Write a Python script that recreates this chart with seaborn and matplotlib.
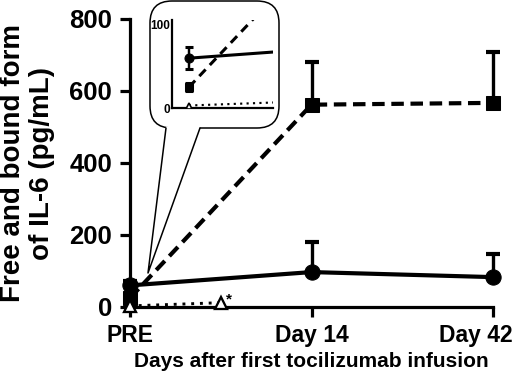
import numpy as np
import pandas as pd
import matplotlib
matplotlib.use("Agg")
import matplotlib.pyplot as plt
import seaborn as sns
from matplotlib.patches import FancyBboxPatch, Polygon
from matplotlib.lines import Line2D
from matplotlib.transforms import IdentityTransform, ScaledTranslation

# ---- data ----
day_labels = ["PRE", "Day 14", "Day 42"]
day_pos = [0, 1, 2]

bound_il6 = [25, 562, 567]       # dashed, squares
bound_err = [5, 119, 140]
free_il6 = [60, 97, 83]          # solid, circles
free_err = [13, 83, 64]
tcz_pos = [0, 0.5]               # dotted, open triangles
tcz_il6 = [3, 12]

sns.set_style("ticks")
plt.rcParams["font.family"] = ["Liberation Sans", "DejaVu Sans"]
plt.rcParams["font.weight"] = "bold"
for k in ["text.color", "axes.labelcolor", "xtick.color", "ytick.color", "axes.edgecolor"]:
    plt.rcParams[k] = "black"

W, H = 520, 377
fig = plt.figure(figsize=(W / 100, H / 100), dpi=100)
ax = fig.add_axes([130 / W, 1 - 307 / H, 363 / W, 288 / H])

df_b = pd.DataFrame({"x": day_pos, "y": bound_il6})
df_f = pd.DataFrame({"x": day_pos, "y": free_il6})
df_t = pd.DataFrame({"x": tcz_pos, "y": tcz_il6})


def draw(a, lw, ms, cap, dash, small=False):
    a.errorbar(day_pos, bound_il6, yerr=[[5, 0, 0] if small else np.zeros(3), bound_err],
               fmt="none", ecolor="black", elinewidth=lw * 0.8, capsize=cap,
               capthick=lw, clip_on=small, zorder=3)
    a.errorbar(day_pos, free_il6, yerr=[[13, 0, 0] if small else np.zeros(3), free_err],
               fmt="none", ecolor="black", elinewidth=lw * 0.8, capsize=cap,
               capthick=lw, clip_on=small, zorder=3)
    sns.lineplot(data=df_b, x="x", y="y", ax=a, color="black", lw=lw,
                 dashes=False, linestyle=(0, dash), marker="s", ms=ms * 0.9,
                 markeredgecolor="black", clip_on=small, zorder=4)
    sns.lineplot(data=df_f, x="x", y="y", ax=a, color="black", lw=lw,
                 marker="o", ms=ms, markeredgecolor="black", clip_on=small, zorder=4)
    sns.lineplot(data=df_t, x="x", y="y", ax=a, color="black", lw=lw * 0.7,
                 linestyle=(0, (1, 2.0)), marker="^", ms=ms * 0.75,
                 markerfacecolor="white", markeredgecolor="black",
                 markeredgewidth=lw * 0.55, clip_on=small, zorder=4)


draw(ax, 3, 11, 4.7, (3, 1.6))
ax.text(0.53, 22, "*", fontsize=11, ha="left", va="center")

ax.set_xlim(0, 2)
ax.set_ylim(0, 800)
ax.set_xticks(day_pos)
ax.set_xticklabels(day_labels)
ax.set_yticks([0, 200, 400, 600, 800])
for s in ["top", "right"]:
    ax.spines[s].set_visible(False)
for s in ["left", "bottom"]:
    ax.spines[s].set_linewidth(2.3)
    ax.spines[s].set_color("black")
ax.tick_params(axis="both", direction="out", length=7.5, width=2.3, color="black")
ax.tick_params(axis="y", labelsize=18.5, pad=5.5)
ax.tick_params(axis="x", labelsize=16.5, pad=5)
for lab in ax.get_xticklabels() + ax.get_yticklabels():
    lab.set_fontweight("bold")
# last x label sits left of its tick so it stays in the picture
last = ax.get_xticklabels()[-1]
last.set_transform(last.get_transform() + ScaledTranslation(-17 / 100, 0, fig.dpi_scale_trans))

ax.set_xlabel("Days after first tocilizumab infusion", fontsize=15, fontweight="bold")
ax.set_ylabel("Free and bound form\nof IL-6 (pg/mL)", fontsize=20, fontweight="bold",
              linespacing=1.15)
ax.xaxis.set_label_coords(0.5, -0.19)
ax.yaxis.set_label_coords(-0.281, 0.5)
ax.yaxis.label.set_va("center")
ax.xaxis.label.set_va("center")

# ---- callout box (display pixel coordinates, origin bottom-left) ----
def fy(py):
    return H - py

box = FancyBboxPatch((150, fy(128)), 129, 127,
                     boxstyle="round,pad=0,rounding_size=22",
                     transform=IdentityTransform(), facecolor="white",
                     edgecolor="black", lw=1.1, zorder=5)
fig.patches.append(box)
tip = (148, fy(273))
fig.patches.append(Polygon([(166, fy(126.5)), tip, (200, fy(126.5))],
                           closed=True, transform=IdentityTransform(),
                           facecolor="white", edgecolor="none", zorder=6))
fig.lines.append(Line2D([166, tip[0], 200], [fy(128), tip[1], fy(128)],
                        transform=IdentityTransform(), color="black", lw=1.1,
                        zorder=7))

# ---- inset ----
axi = fig.add_axes([172 / W, 1 - 108 / H, 101 / W, 88 / H], zorder=8)
axi.patch.set_alpha(0)
draw(axi, 2.2, 6.5, 2.8, (3, 2), small=True)
axi.set_xlim(-0.04, 0.2)
axi.set_ylim(0, 106)
axi.set_xticks([])
axi.set_yticks([0, 100])
axi.set_xlabel("")
axi.set_ylabel("")
for s in ["top", "right"]:
    axi.spines[s].set_visible(False)
for s in ["left", "bottom"]:
    axi.spines[s].set_linewidth(1.6)
    axi.spines[s].set_color("black")
axi.tick_params(axis="y", length=0, labelsize=8.5, pad=1)
for lab in axi.get_yticklabels():
    lab.set_fontweight("bold")

fig.savefig("out.png", dpi=100)
